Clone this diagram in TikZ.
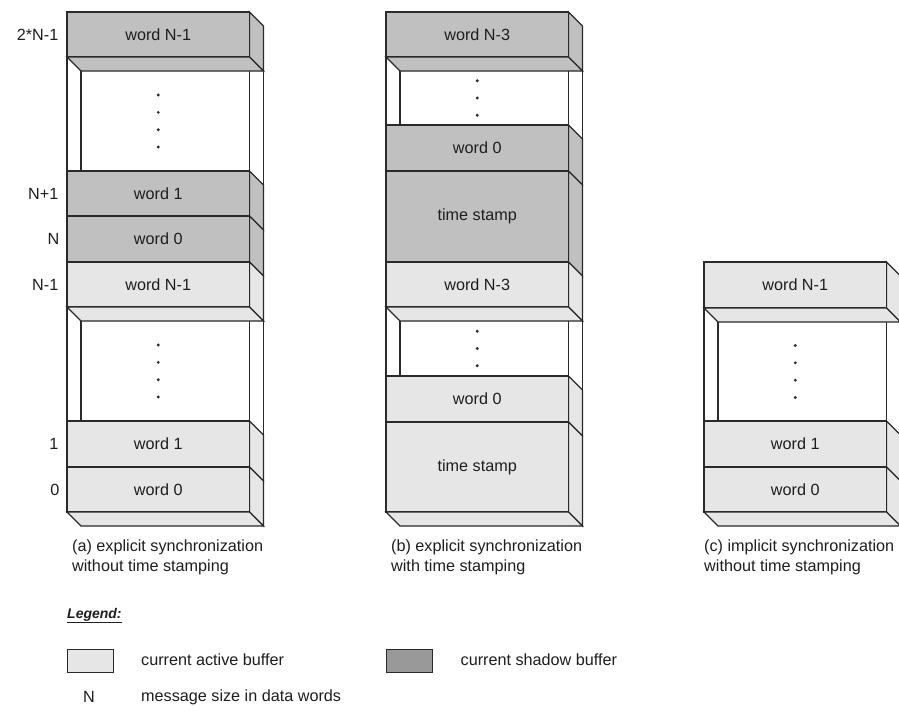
\documentclass[tikz,border=0pt]{standalone}
\usepackage{fontspec}
\setmainfont{Liberation Sans}
\definecolor{shadowfill}{HTML}{C0C0C0}
\definecolor{activefill}{HTML}{E6E6E6}
\definecolor{legenddark}{HTML}{999999}
\definecolor{edgegray}{HTML}{2A2A2A}
\definecolor{textgray}{HTML}{1E1E1E}

% geometry of the memory columns
\def\colw{182.5}
\def\dep{14}

% one memory word: front face plus right-hand side face
\newcommand\membox[6]{%
  \pgfmathsetmacro\bxR{#1+\colw}%
  \filldraw[edge, fill=#4] (\bxR,#2) -- (\bxR+\dep,#2+\dep) -- (\bxR+\dep,#3+\dep) -- (\bxR,#3) -- cycle;
  \filldraw[edge, fill=#4] (#1,#2) rectangle (\bxR,#3);
  \node[label] (#6) at ({#1+\colw/2},{(#2+#3)/2}) {#5};
}
% open section of a column, seen into the hollow, with a column of dots
\newcommand\memgap[5]{%
  \pgfmathsetmacro\bxR{#1+\colw}%
  \draw[edge] (#1,#2) -- (#1,#3);
  \draw[edge] (#1+\dep,#2+\dep) -- (#1+\dep,#3);
  \draw[edge] (\bxR,#2+\dep) -- (\bxR,#3);
  \draw[edge] (\bxR+\dep,#2+\dep) -- (\bxR+\dep,#3+\dep);
  \filldraw[edge, fill=#4] (#1,#2) -- (\bxR,#2) -- (\bxR+\dep,#2+\dep) -- (#1+\dep,#2+\dep) -- cycle;
  \pgfmathsetmacro\gapmid{(#2+\dep+#3)/2}%
  \foreach \k in {1,...,#5}
    \fill[edgegray] ({#1+\colw/2},{\gapmid+(\k-(#5+1)/2)*17.3}) circle (1.6pt);
}
% bottom face under a column
\newcommand\membase[3]{%
  \filldraw[edge, fill=#3] (#1,#2) -- (#1+\colw,#2) -- (#1+\colw+\dep,#2+\dep) -- (#1+\dep,#2+\dep) -- cycle;
}

\begin{document}
\begin{tikzpicture}[x=1pt,y=-1pt,
  edge/.style={draw=edgegray, line width=1.3pt, line join=miter},
  label/.style={font=\fontsize{16.2}{19.5}\selectfont, text=textgray, inner sep=0pt},
  index/.style={label, anchor=east},
  caption/.style={label, anchor=north west, align=left},
  legendbox/.style={draw=edgegray, line width=1.3pt, minimum width=46pt, minimum height=23pt, inner sep=0pt, anchor=north west}]
\useasboundingbox (0,0) rectangle (899,713);
\fill[white] (0,0) rectangle (899,713);

% (a) explicit synchronization without time stamping
\membox{67}{12}{57}{shadowfill}{word N-1}{a9}
\memgap{67}{57}{171}{shadowfill}{4}
\membox{67}{171}{216}{shadowfill}{word 1}{a8}
\membox{67}{216}{262}{shadowfill}{word 0}{a7}
\membox{67}{262}{307}{activefill}{word N-1}{a6}
\memgap{67}{307}{421}{activefill}{4}
\membox{67}{421}{467}{activefill}{word 1}{a2}
\membox{67}{467}{512}{activefill}{word 0}{a1}
\membase{67}{512}{activefill}

\node[index] (ia9) at (58.5,34.5) {2*N-1};
\node[index] (ia8) at (58.5,193.5) {N+1};
\node[index] (ia7) at (59.5,239) {N};
\node[index] (ia6) at (58.5,284.5) {N-1};
\node[index] (ia2) at (58.5,444) {1};
\node[index] (ia1) at (59.5,489.5) {0};

% (b) explicit synchronization with time stamping
\membox{386}{12}{57}{shadowfill}{word N-3}{b8}
\memgap{386}{57}{125}{shadowfill}{3}
\membox{386}{125}{171}{shadowfill}{word 0}{b6}
\membox{386}{171}{262}{shadowfill}{time stamp}{b5}
\membox{386}{262}{307}{activefill}{word N-3}{b4}
\memgap{386}{307}{376}{activefill}{3}
\membox{386}{376}{422}{activefill}{word 0}{b2}
\membox{386}{422}{512}{activefill}{time stamp}{b1}
\membase{386}{512}{activefill}

% (c) implicit synchronization without time stamping
\membox{704}{262}{308}{activefill}{word N-1}{c4}
\memgap{704}{308}{421}{activefill}{4}
\membox{704}{421}{467}{activefill}{word 1}{c2}
\membox{704}{467}{512}{activefill}{word 0}{c1}
\membase{704}{512}{activefill}

% captions
\node[caption] (capa) at (72,540) {(a) explicit synchronization\\without time stamping};
\node[caption] (capb) at (391,540) {(b) explicit synchronization\\with time stamping};
\node[caption] (capc) at (704,540) {(c) implicit synchronization\\without time stamping};

% legend
\node[font=\fontsize{14}{16}\selectfont\bfseries\itshape, text=textgray, inner sep=0pt, anchor=west] (legtitle) at (67,615.5) {\underline{Legend:}};
\node[legendbox, fill=activefill] (legact) at (66.5,648.5) {};
\node[label, anchor=west] (legacttext) at (141,660) {current active buffer};
\node[legendbox, fill=legenddark] (legshd) at (386,648.5) {};
\node[label, anchor=west] (legshdtext) at (460.5,659.5) {current shadow buffer};
\node[label] (legn) at (89,697) {N};
\node[label, anchor=west] (legntext) at (141,697) {message size in data words};
\end{tikzpicture}
\end{document}
